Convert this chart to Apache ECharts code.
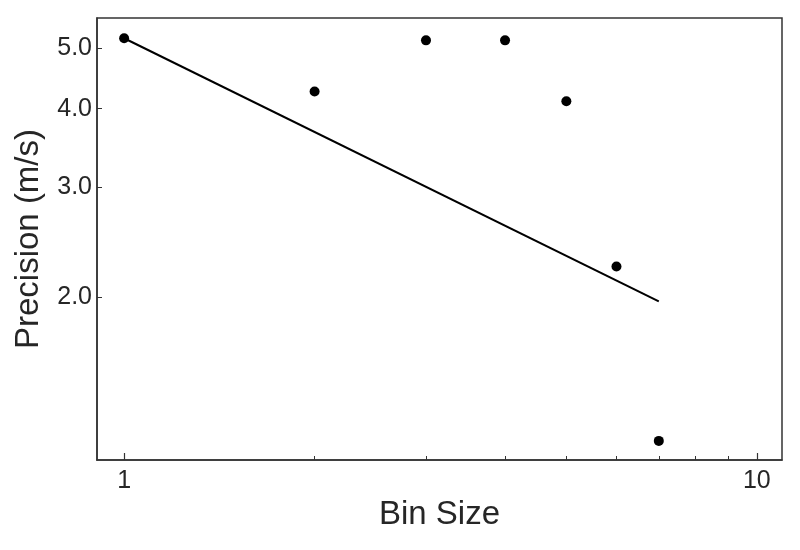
<!DOCTYPE html>
<html>
<head>
<meta charset="utf-8">
<script src="https://cdn.jsdelivr.net/npm/echarts@6/dist/echarts.min.js"></script>
<style>
  html, body { margin: 0; padding: 0; background: #fff; }
  #chart { width: 800px; height: 550px; }
</style>
</head>
<body>
<div id="chart"></div>
<script>
// bin sizes and measured precision
const binSizes = [1, 2, 3, 4, 5, 6, 7]
const precision = [5.18, 4.26, 5.14, 5.14, 4.11, 2.24, 1.18]
// power-law fit, end points
const fitX = [1, 7]
const fitY = [5.18, 1.97]
// tick labels
const xMajorTicks = [1, 10]
const xMinorTicks = [2, 3, 4, 5, 6, 7, 8, 9]
const yTicks = [2, 3, 4, 5]

const font = 'Liberation Sans, Arial, sans-serif'
const textColor = '#262626'
const axisColor = '#333333'

const chart = echarts.init(document.getElementById('chart'))

const xBase = {
  type: 'log',
  logBase: 10,
  min: 0.906,
  max: 10.96,
  gridIndex: 0,
  position: 'bottom',
  splitLine: { show: false },
  minorTick: { show: false },
  minorSplitLine: { show: false }
}

chart.setOption({
  animation: false,
  backgroundColor: '#fff',
  grid: {
    left: 97,
    right: 18,
    top: 18,
    bottom: 90,
    show: true,
    borderColor: axisColor,
    borderWidth: 1.5,
    backgroundColor: 'transparent',
    outerBoundsMode: 'none',
    containLabel: false
  },
  xAxis: [
    Object.assign({}, xBase, {
      name: 'Bin Size',
      nameLocation: 'middle',
      nameGap: 37,
      nameTextStyle: { fontFamily: font, fontSize: 33, color: textColor },
      axisLine: { show: true, lineStyle: { color: axisColor, width: 1.5 } },
      axisTick: { show: true, inside: true, length: 7, customValues: xMajorTicks, lineStyle: { color: axisColor, width: 1.2 } },
      axisLabel: { show: true, customValues: xMajorTicks, margin: 9, fontFamily: font, fontSize: 25, color: textColor, formatter: v => String(v) }
    }),
    Object.assign({}, xBase, {
      axisLine: { show: false },
      axisTick: { show: true, inside: true, length: 4, customValues: xMinorTicks, lineStyle: { color: axisColor, width: 1 } },
      axisLabel: { show: false }
    })
  ],
  yAxis: {
    type: 'log',
    logBase: 10,
    min: 1.10,
    max: 5.58,
    name: 'Precision (m/s)',
    nameLocation: 'middle',
    nameGap: 52,
    nameTextStyle: { fontFamily: font, fontSize: 33, color: textColor },
    splitLine: { show: false },
    minorTick: { show: false },
    axisLine: { show: true, lineStyle: { color: axisColor, width: 1.5 } },
    axisTick: { show: true, inside: true, length: 5, customValues: yTicks, lineStyle: { color: axisColor, width: 1 } },
    axisLabel: { show: true, customValues: yTicks, margin: 5, fontFamily: font, fontSize: 25, color: textColor, formatter: v => Number(v).toFixed(1) }
  },
  series: [
    {
      name: 'fit',
      type: 'line',
      xAxisIndex: 0,
      data: fitX.map((x, i) => [x, fitY[i]]),
      showSymbol: false,
      symbol: 'none',
      lineStyle: { color: '#000', width: 2 },
      z: 2
    },
    {
      name: 'data',
      type: 'scatter',
      xAxisIndex: 0,
      data: binSizes.map((x, i) => [x, precision[i]]),
      symbol: 'circle',
      symbolSize: 10,
      itemStyle: { color: '#000', opacity: 1 },
      z: 3
    }
  ]
})
</script>
</body>
</html>
